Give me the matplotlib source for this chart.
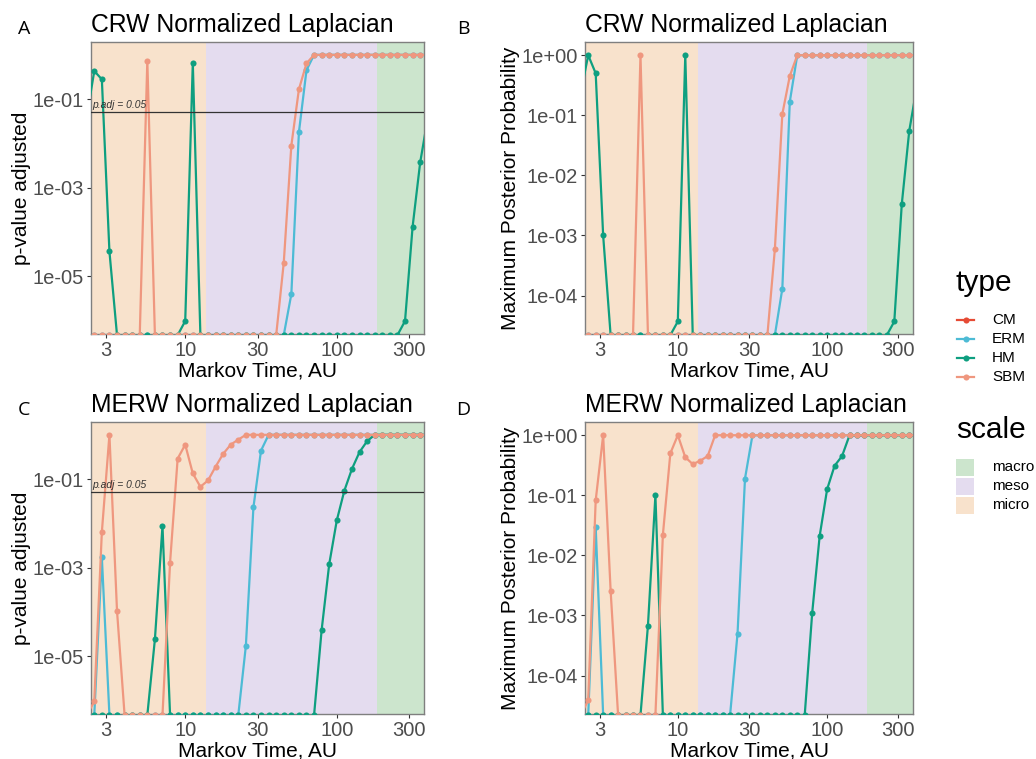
import numpy as np
import matplotlib.pyplot as plt
from matplotlib.lines import Line2D
from matplotlib.patches import Rectangle

plt.rcParams["font.family"] = ["Liberation Sans", "DejaVu Sans"]

# Markov times (AU), log-spaced sampling
markov_time = [2.239, 2.512, 2.818, 3.162, 3.548, 3.981, 4.467, 5.012, 5.623, 6.310,
               7.079, 7.943, 8.913, 10.0, 11.22, 12.59, 14.13, 15.85, 17.78, 19.95,
               22.39, 25.12, 28.18, 31.62, 35.48, 39.81, 44.67, 50.12, 56.23, 63.10,
               70.79, 79.43, 89.13, 100.0, 112.2, 125.9, 141.3, 158.5, 177.8, 199.5,
               223.9, 251.2, 281.8, 316.2, 354.8, 398.1]

types = ["CM", "ERM", "HM", "SBM"]
type_colors = ["#E64B35", "#4DBBD5", "#0E9F80", "#EF977F"]

scales = ["macro", "meso", "micro"]
scale_colors = ["#CCE5CD", "#E4DCEF", "#F8E2CC"]
micro_meso_edge = 13.7
meso_macro_edge = 185.0

# CM has no plotted values in any panel (legend entry only)
no_values = [np.nan] * 46

# ---- CRW, adjusted p-value (0 = below plotting range)
crw_pval_cm = no_values
crw_pval_erm = [0, 0, 0, 0, 0, 0, 0, 0, 0, 0, 0, 0, 0, 0, 0, 0, 0, 0, 0, 0, 0, 0, 0,
                0, 0, 0, 0, 3.9e-6, 0.0178, 0.45, 1, 1, 1, 1, 1, 1, 1, 1, 1, 1, 1, 1,
                1, 1, 1, 1]
crw_pval_hm = [0.04, 0.43, 0.28, 3.6e-5, 0, 0, 0, 0, 0, 0, 0, 0, 0, 9.6e-7, 0.66,
               0, 0, 0, 0, 0, 0, 0, 0, 0, 0, 0, 0, 0, 0, 0, 0, 0, 0, 0, 0, 0, 0, 0,
               0, 0, 0, 0, 9.6e-7, 1.3e-4, 3.7e-3, 0.037]
crw_pval_sbm = [0, 0, 0, 0, 0, 0, 0, 0, 0.73, 0, 0, 0, 0, 0, 0, 0, 0, 0, 0, 0, 0, 0,
                0, 0, 0, 0, 2e-5, 8.9e-3, 0.166, 0.64, 1, 1, 1, 1, 1, 1, 1, 1, 1, 1,
                1, 1, 1, 1, 1, 1]

# ---- CRW, maximum posterior probability
crw_post_cm = no_values
crw_post_erm = [0, 0, 0, 0, 0, 0, 0, 0, 0, 0, 0, 0, 0, 0, 0, 0, 0, 0, 0, 0, 0, 0, 0,
                0, 0, 0, 0, 1.3e-4, 0.168, 1, 1, 1, 1, 1, 1, 1, 1, 1, 1, 1, 1, 1, 1,
                1, 1, 1]
crw_post_hm = [0.24, 1.0, 0.5, 1e-3, 0, 0, 0, 0, 0, 0, 0, 0, 0, 3.7e-5, 1.0,
               0, 0, 0, 0, 0, 0, 0, 0, 0, 0, 0, 0, 0, 0, 0, 0, 0, 0, 0, 0, 0, 0, 0,
               0, 0, 0, 0, 3.7e-5, 3.3e-3, 0.055, 0.29]
crw_post_sbm = [0, 0, 0, 0, 0, 0, 0, 0, 1.0, 0, 0, 0, 0, 0, 0, 0, 0, 0, 0, 0, 0, 0,
                0, 0, 0, 0, 5.9e-4, 0.105, 0.45, 1, 1, 1, 1, 1, 1, 1, 1, 1, 1, 1, 1,
                1, 1, 1, 1, 1]

# ---- MERW, adjusted p-value
merw_pval_cm = no_values
merw_pval_erm = [0, 0, 1.7e-3, 0, 0, 0, 0, 0, 0, 0, 0, 0, 0, 0, 0, 0, 0, 0, 0, 0, 0,
                 1.7e-5, 0.023, 0.44, 1, 1, 1, 1, 1, 1, 1, 1, 1, 1, 1, 1, 1, 1, 1, 1,
                 1, 1, 1, 1, 1, 1]
merw_pval_hm = [0, 0, 0, 0, 0, 0, 0, 0, 0, 2.4e-5, 8.7e-3, 0, 0, 0, 0, 0, 0, 0, 0, 0,
                0, 0, 0, 0, 0, 0, 0, 0, 0, 0, 0, 3.9e-5, 1.2e-3, 0.0117, 0.055, 0.17,
                0.41, 0.72, 1, 1, 1, 1, 1, 1, 1, 1]
merw_pval_sbm = [0, 9.4e-7, 6.3e-3, 1.0, 1.05e-4, 0, 0, 0, 0, 0, 0, 1.3e-3, 0.29, 0.6,
                 0.134, 0.067, 0.093, 0.19, 0.37, 0.6, 0.78, 1, 1, 1, 1, 1, 1, 1, 1, 1,
                 1, 1, 1, 1, 1, 1, 1, 1, 1, 1, 1, 1, 1, 1, 1, 1]

# ---- MERW, maximum posterior probability
merw_post_cm = no_values
merw_post_erm = [0, 0, 0.03, 0, 0, 0, 0, 0, 0, 0, 0, 0, 0, 0, 0, 0, 0, 0, 0, 0, 0,
                 5e-4, 0.19, 1, 1, 1, 1, 1, 1, 1, 1, 1, 1, 1, 1, 1, 1, 1, 1, 1, 1, 1,
                 1, 1, 1, 1]
merw_post_hm = [0, 0, 0, 0, 0, 0, 0, 0, 0, 6.8e-4, 0.1, 0, 0, 0, 0, 0, 0, 0, 0, 0,
                0, 0, 0, 0, 0, 0, 0, 0, 0, 0, 0, 1.1e-3, 0.021, 0.126, 0.31, 0.45,
                1, 1, 1, 1, 1, 1, 1, 1, 1, 1]
merw_post_sbm = [0, 3.9e-5, 0.082, 1.0, 2.6e-3, 0, 0, 0, 0, 0, 0, 0.022, 0.5, 1.0,
                 0.43, 0.33, 0.376, 0.45, 1, 1, 1, 1, 1, 1, 1, 1, 1, 1, 1, 1, 1, 1,
                 1, 1, 1, 1, 1, 1, 1, 1, 1, 1, 1, 1, 1, 1]

W, H = 1036, 759
XLIM = (2.39, 376.0)
PVAL_LIM = (4.9e-7, 1.95)
POST_LIM = (2.29e-5, 1.66)


def px_box(left, right, top, bottom):
    return [left / W, 1 - bottom / H, (right - left) / W, (bottom - top) / H]


def draw_panel(ax, title, series, ylim, ylabel, yticks, pval_line):
    ax.set_xscale("log")
    ax.set_yscale("log")
    ax.set_xlim(*XLIM)
    ax.set_ylim(*ylim)
    ax.axvspan(XLIM[0], micro_meso_edge, color=scale_colors[2], lw=0, zorder=0)
    ax.axvspan(micro_meso_edge, meso_macro_edge, color=scale_colors[1], lw=0, zorder=0)
    ax.axvspan(meso_macro_edge, XLIM[1], color=scale_colors[0], lw=0, zorder=0)

    # zeros sit just under the lower limit: only the tops of their points show
    floor = ylim[0] / 10 ** (0.025 * np.log10(ylim[1] / ylim[0]) / 6.6)
    for vals, col in zip(series, type_colors):
        v = np.array(vals, dtype=float)
        v[v <= 0] = floor
        ax.plot(markov_time, v, color=col, lw=1.6, marker="o", ms=4.4,
                markeredgewidth=0, zorder=3)

    if pval_line:
        ax.axhline(0.05, color="#333333", lw=0.9, zorder=4)
        ax.annotate("p.adj = 0.05", xy=(XLIM[0], 0.05), xytext=(1, 2),
                    textcoords="offset points", fontsize=7.4, style="italic",
                    color="#333333", va="bottom", ha="left", zorder=5)

    ax.set_xticks([3, 10, 30, 100, 300])
    ax.set_xticklabels(["3", "10", "30", "100", "300"])
    ax.set_yticks(yticks)
    ax.set_yticklabels(["%.0e" % t for t in yticks])
    ax.minorticks_off()
    ax.tick_params(length=3, width=0.8, color="#333333", labelsize=14.5,
                   labelcolor="#4D4D4D", pad=2)
    for sp in ax.spines.values():
        sp.set_color("#7F7F7F")
        sp.set_linewidth(1.0)
    ax.set_title(title, loc="left", fontsize=17.8, pad=7)
    ax.set_xlabel("Markov Time, AU", fontsize=15, labelpad=1)
    ax.set_ylabel(ylabel, fontsize=15, labelpad=1.5)


fig = plt.figure(figsize=(W / 100, H / 100), dpi=100)
axA = fig.add_axes(px_box(91, 424, 42, 334))
axB = fig.add_axes(px_box(585, 913, 42, 334))
axC = fig.add_axes(px_box(91, 424, 422, 714))
axD = fig.add_axes(px_box(585, 913, 422, 714))

pval_ticks = [1e-1, 1e-3, 1e-5]
post_ticks = [1e0, 1e-1, 1e-2, 1e-3, 1e-4]

draw_panel(axA, "CRW Normalized Laplacian",
           [crw_pval_cm, crw_pval_erm, crw_pval_hm, crw_pval_sbm],
           PVAL_LIM, "p-value adjusted", pval_ticks, True)
draw_panel(axB, "CRW Normalized Laplacian",
           [crw_post_cm, crw_post_erm, crw_post_hm, crw_post_sbm],
           POST_LIM, "Maximum Posterior Probability", post_ticks, False)
draw_panel(axC, "MERW Normalized Laplacian",
           [merw_pval_cm, merw_pval_erm, merw_pval_hm, merw_pval_sbm],
           PVAL_LIM, "p-value adjusted", pval_ticks, True)
draw_panel(axD, "MERW Normalized Laplacian",
           [merw_post_cm, merw_post_erm, merw_post_hm, merw_post_sbm],
           POST_LIM, "Maximum Posterior Probability", post_ticks, False)

for letter, (x, y) in zip("ABCD", [(24, 29), (463, 29), (24, 410), (463, 410)]):
    fig.text(x / W, 1 - y / H, letter, fontsize=14, family="Open Sans",
             ha="center", va="center")


# ---- legends, laid out in figure pixels
def fx(x):
    return x / W


def fy(y):
    return 1 - y / H


fig.text(fx(956), fy(291), "type", fontsize=21.5, va="baseline", ha="left")
for i, (name, col) in enumerate(zip(types, type_colors)):
    yc = 320 + 19 * i
    fig.add_artist(Line2D([fx(957), fx(974)], [fy(yc), fy(yc)], color=col, lw=1.6,
                          transform=fig.transFigure))
    fig.add_artist(Line2D([fx(965.5)], [fy(yc)], color=col, marker="o", ms=4.4,
                          markeredgewidth=0, transform=fig.transFigure))
    fig.text(fx(992), fy(yc), name, fontsize=11, va="center", ha="left")

fig.text(fx(956), fy(438), "scale", fontsize=21.5, va="baseline", ha="left")
for i, (name, col) in enumerate(zip(scales, scale_colors)):
    yc = 467 + 19 * i
    fig.add_artist(Rectangle((fx(956), fy(yc + 8.5)), 18 / W, 17 / H, facecolor=col,
                             edgecolor="none", transform=fig.transFigure))
    fig.text(fx(992), fy(yc), name, fontsize=11, va="center", ha="left")

fig.savefig("out.png", dpi=100)
